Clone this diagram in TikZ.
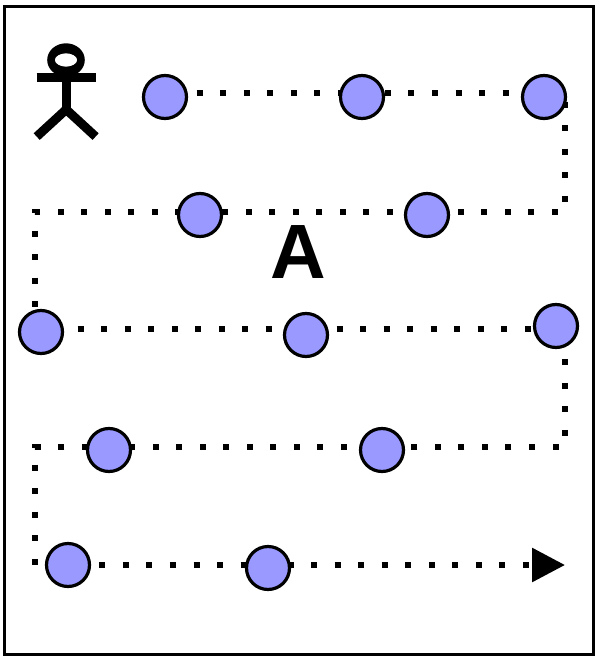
\documentclass[tikz,border=0pt]{standalone}
\usepackage{fontspec}
\setmainfont{Liberation Sans}
\usetikzlibrary{arrows.meta,backgrounds}
\definecolor{stopblue}{RGB}{153,153,255}
\begin{document}
\begin{tikzpicture}[x=1pt,y=-1pt,stopdot/.style={circle,draw=black,fill=stopblue,line width=3.2pt,minimum size=43pt,inner sep=0pt},route/.style={line width=6pt,dash pattern=on 6pt off 17.53pt},limb/.style={line width=9pt}]
        \useasboundingbox (0,0) rectangle (598,660);
        \draw[line width=3pt] (4,7) rectangle (593,654);
        % stops along the route
        \node[stopdot] (s1) at (165,97) {};
        \node[stopdot] (s2) at (362,97) {};
        \node[stopdot] (s3) at (544,97) {};
        \node[stopdot] (s4) at (427,215) {};
        \node[stopdot] (s5) at (200,215) {};
        \node[stopdot] (s6) at (41,332) {};
        \node[stopdot] (s7) at (306,335) {};
        \node[stopdot] (s8) at (556,326) {};
        \node[stopdot] (s9) at (382,450) {};
        \node[stopdot] (s10) at (109,450) {};
        \node[stopdot] (s11) at (68,565) {};
        \node[stopdot] (s12) at (268,568) {};
        \coordinate (start) at (149.64,93.5);
        \coordinate (c1) at (565,93.5);
        \coordinate (c2) at (565,212);
        \coordinate (c3) at (35,212);
        \coordinate (c4) at (35,329);
        \coordinate (c5) at (565,329);
        \coordinate (c6) at (565,447);
        \coordinate (c7) at (35,447);
        \coordinate (c8) at (35,565);
        \coordinate (end) at (565,565);
        \begin{scope}[on background layer]
          \draw[route,-{Triangle[length=33pt,width=33pt]}] (start)--(c1)--(c2)--(c3)--(c4)--(c5)--(c6)--(c7)--(c8)--(end);
        \end{scope}
        % actor
        \fill[even odd rule] (66,60) ellipse (18.8 and 16.7) (66,60) ellipse (11.2 and 6.7);
        \draw[limb] (36.5,77.8)--(95.5,77.8);
        \draw[limb] (66.2,71)--(66.2,109.5);
        \draw[limb] (36.7,136.6)--(66.2,109.5)--(95.6,136.6);
        \node[font=\fontsize{77}{77}\selectfont\bfseries,inner sep=0pt] (zone) at (298.3,251.7) {A};
      \end{tikzpicture}
\end{document}
